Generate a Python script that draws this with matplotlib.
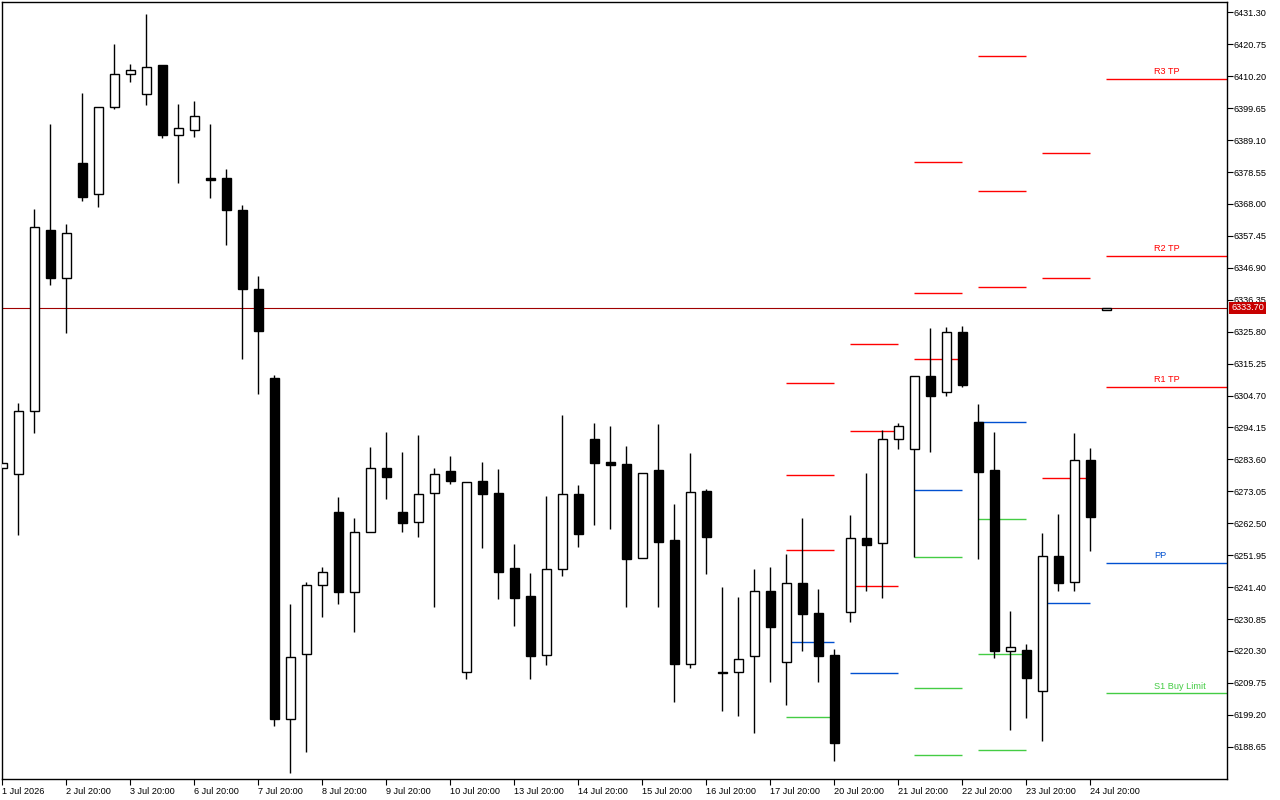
import matplotlib
matplotlib.use("Agg")
import matplotlib.pyplot as plt
from matplotlib.patches import Rectangle
import matplotlib.transforms as mtransforms
import numpy as np

# candles (one every 6 hours), index 0 = 1 Jul 2026
opens = [6280.69, 6278.71, 6299.54, 6359.46, 6343.50, 6381.61, 6371.26, 6400.02, 6410.93, 6404.32,
         6413.91, 6390.77, 6392.42, 6376.60, 6376.55, 6365.97, 6339.86, 6310.44, 6197.72, 6219.21,
         6242.02, 6266.15, 6239.90, 6259.54, 6280.69, 6266.15, 6262.78, 6272.43, 6279.80, 6213.26,
         6276.49, 6272.53, 6247.74, 6238.48, 6218.88, 6247.31, 6272.20, 6290.38, 6282.78, 6282.11,
         6250.94, 6280.13, 6256.99, 6215.90, 6273.19, 6213.40, 6213.26, 6218.55, 6240.13, 6216.57,
         6242.68, 6232.76, 6218.88, 6233.10, 6257.55, 6255.90, 6290.28, 6286.97, 6311.10, 6305.82,
         6325.65, 6295.90, 6280.03, 6220.20, 6220.53, 6206.98, 6251.61, 6243.01, 6283.34, 6332.80]
highs = [6282.45, 6302.28, 6366.41, 6394.50, 6361.45, 6404.75, 6400.02, 6420.95, 6414.33, 6430.86,
         6413.91, 6401.01, 6402.10, 6394.50, 6379.63, 6367.73, 6344.03, 6311.43, 6235.84, 6243.01,
         6248.07, 6271.21, 6264.27, 6287.73, 6292.69, 6286.08, 6291.70, 6280.79, 6284.76, 6276.16,
         6282.78, 6280.46, 6255.67, 6246.08, 6271.54, 6298.31, 6275.17, 6295.67, 6294.68, 6288.06,
         6279.14, 6295.34, 6268.89, 6285.75, 6273.85, 6241.46, 6238.15, 6247.41, 6248.07, 6252.37,
         6264.27, 6240.80, 6220.86, 6265.26, 6279.14, 6293.35, 6295.67, 6311.10, 6327.07, 6327.50,
         6327.73, 6301.95, 6292.69, 6233.52, 6222.62, 6259.31, 6265.59, 6292.36, 6287.40, 6333.70]
lows = [6280.69, 6258.65, 6292.36, 6341.38, 6325.52, 6368.82, 6366.84, 6399.23, 6408.15, 6400.55,
        6389.64, 6374.77, 6389.97, 6370.04, 6354.60, 6316.92, 6305.35, 6195.61, 6179.88, 6187.02,
        6231.64, 6235.94, 6226.68, 6259.54, 6270.64, 6259.74, 6257.82, 6234.95, 6275.60, 6211.15,
        6254.45, 6237.49, 6228.67, 6211.15, 6215.77, 6245.19, 6254.78, 6261.95, 6260.73, 6234.95,
        6250.94, 6234.95, 6203.54, 6214.78, 6245.85, 6200.57, 6198.92, 6193.20, 6210.15, 6202.55,
        6220.40, 6210.15, 6184.04, 6229.99, 6240.23, 6237.92, 6287.17, 6251.28, 6286.18, 6304.69,
        6307.67, 6250.81, 6218.09, 6194.29, 6198.26, 6190.65, 6240.23, 6240.23, 6253.46, 6332.80]
closes = [6282.45, 6299.54, 6360.36, 6343.43, 6358.37, 6370.14, 6400.02, 6410.93, 6412.25, 6413.24,
          6390.63, 6393.08, 6397.05, 6376.00, 6365.84, 6339.86, 6326.18, 6197.72, 6218.22, 6242.02,
          6246.32, 6239.90, 6259.54, 6280.69, 6277.92, 6262.71, 6272.10, 6278.81, 6276.59, 6276.16,
          6272.30, 6246.51, 6237.92, 6218.75, 6247.31, 6272.10, 6259.08, 6282.54, 6281.88, 6250.81,
          6279.14, 6256.43, 6216.10, 6272.76, 6258.08, 6213.00, 6217.56, 6240.03, 6228.33, 6242.68,
          6232.63, 6218.75, 6189.99, 6257.55, 6255.44, 6290.28, 6294.58, 6311.10, 6304.69, 6325.65,
          6308.33, 6279.57, 6220.40, 6221.53, 6211.48, 6251.61, 6242.88, 6283.34, 6264.69, 6333.70]

x_labels = ["1 Jul 2026", "2 Jul 20:00", "3 Jul 20:00", "6 Jul 20:00", "7 Jul 20:00",
            "8 Jul 20:00", "9 Jul 20:00", "10 Jul 20:00", "13 Jul 20:00", "14 Jul 20:00",
            "15 Jul 20:00", "16 Jul 20:00", "17 Jul 20:00", "20 Jul 20:00", "21 Jul 20:00",
            "22 Jul 20:00", "23 Jul 20:00", "24 Jul 20:00"]

y_ticks = [6188.65, 6199.20, 6209.75, 6220.30, 6230.85, 6241.40, 6251.95, 6262.50,
           6273.05, 6283.60, 6294.15, 6304.70, 6315.25, 6325.80, 6336.35, 6346.90,
           6357.45, 6368.00, 6378.55, 6389.10, 6399.65, 6410.20, 6420.75, 6431.30]

# daily pivot levels of past days (nan = off the chart)
nan = float("nan")
piv_start = [49, 53, 57, 61, 65]
r3 = [6308.79, 6321.68, 6381.84, 6416.98, 6384.82]
r2 = [6278.38, 6292.93, 6338.54, 6372.26, 6343.50]
r1 = [6253.59, 6241.69, 6316.72, 6340.52, 6277.39]
pp = [6223.18, 6212.93, 6273.42, 6295.90, 6236.07]
s1 = [6198.39, nan, 6251.27, 6263.84, nan]
s2 = [nan, nan, 6207.97, 6219.21, nan]
s3 = [nan, nan, 6185.82, 6187.48, nan]

# current day levels
cur_start = 69
cur_names = ["R3 TP", "R2 TP", "R1 TP", "PP", "S1 Buy Limit"]
cur_levels = [6409.28, 6350.77, 6307.67, 6249.29, 6206.32]
last_price = 6333.70

RED = "#ff0000"
BLUE = "#0050d0"
GREEN = "#44cc44"
cur_colors = [RED, RED, RED, BLUE, GREEN]

FONT = "Liberation Sans"
FS = 6.6

fig = plt.figure(figsize=(12.8, 8), dpi=100)
ax = fig.add_axes([2 / 1280, 21 / 800, 1225 / 1280, 777 / 800])
ax.set_xlim(-0.02, 76.54)
ax.set_ylim(6177.99, 6434.73)

# pivot segments
for i, k in enumerate(piv_start):
    for lev, col in [(r3, RED), (r2, RED), (r1, RED), (pp, BLUE), (s1, GREEN), (s2, GREEN), (s3, GREEN)]:
        if not np.isnan(lev[i]):
            ax.hlines(lev[i], k, k + 3, color=col, lw=1.0, zorder=1)

xmax = ax.get_xlim()[1]
for name, lev, col in zip(cur_names, cur_levels, cur_colors):
    ax.hlines(lev, cur_start, xmax, color=col, lw=1.0, zorder=1)
    ax.text(cur_start + 3, lev + 0.9, name, color=col, fontsize=FS, family=FONT,
            ha="left", va="bottom", zorder=5)

# last price line
ax.axhline(last_price, color="#a00000", lw=0.8, zorder=1)

# candles
w = 0.58
for i in range(len(opens)):
    o, h, l, c = opens[i], highs[i], lows[i], closes[i]
    ax.vlines(i, l, h, color="black", lw=1.0, zorder=2)
    fill = "white" if c > o else "black"
    bottom = min(o, c)
    height = max(abs(c - o), 0.35)
    ax.add_patch(Rectangle((i - w / 2, bottom), w, height, facecolor=fill,
                           edgecolor="black", lw=1.0, zorder=3))

# axes styling
for sp in ax.spines.values():
    sp.set_color("black")
    sp.set_linewidth(1.0)

ax.yaxis.tick_right()
ax.set_yticks(y_ticks)
ax.set_yticklabels([f"{v:.2f}" for v in y_ticks], fontsize=FS, family=FONT)
ax.tick_params(axis="y", direction="out", length=4, width=0.8, pad=1)

ax.set_xticks(range(0, 4 * len(x_labels), 4))
ax.set_xticklabels(x_labels, fontsize=FS, family=FONT)
for t in ax.get_xticklabels():
    t.set_ha("left")
ax.tick_params(axis="x", direction="out", length=4, width=0.8, pad=2)

# last price tag
trans = mtransforms.blended_transform_factory(ax.transAxes, ax.transData)
ax.text(1.0 + 4 / 1225, last_price, f"{last_price:.2f}", transform=trans, color="white",
        fontsize=FS, family=FONT, ha="left", va="center", zorder=10, clip_on=False,
        bbox=dict(facecolor="#c80000", edgecolor="none", pad=1.2))

fig.savefig("out.png", dpi=100)
